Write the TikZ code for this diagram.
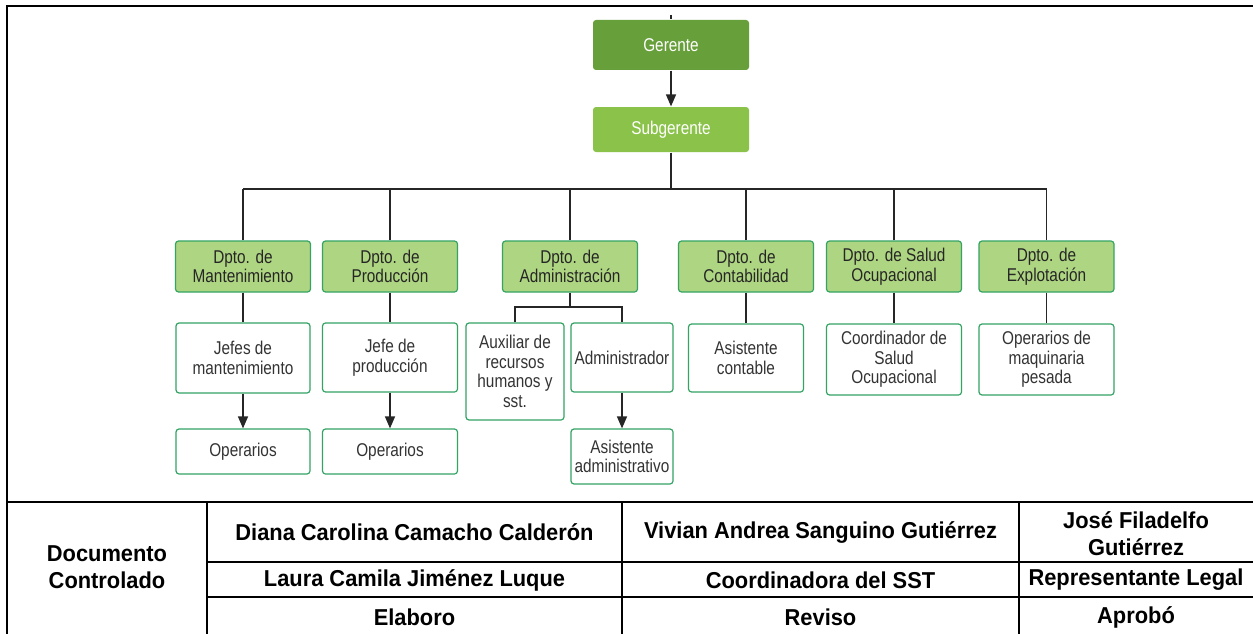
\documentclass[tikz,border=0pt]{standalone}
\usepackage{fontspec}
\setmainfont{Liberation Sans}
\newfontfamily\narrowfont[FakeStretch=0.83]{Liberation Sans}
\newfontfamily\tablafont[FakeStretch=0.95]{Liberation Sans}
\usetikzlibrary{arrows.meta}

\definecolor{verdeoscuro}{HTML}{679F3A}
\definecolor{verdemedio}{HTML}{8BC34A}
\definecolor{verdeclaro}{HTML}{AED581}
\definecolor{bordeverde}{HTML}{34A465}
\definecolor{textogris}{HTML}{333333}

\tikzset{
  caja/.style={draw=bordeverde, line width=1.2pt, rounded corners=3pt, fill=white, inner sep=1pt, align=center, text=textogris, font=\narrowfont\fontsize{18.5}{19.5}\selectfont},
  jefe/.style={caja, draw=none, text=white, minimum width=156pt},
  dpto/.style={caja, fill=verdeclaro, text=black!85, minimum width=135pt, minimum height=51pt},
  linea/.style={line width=1.4pt, draw=black!85},
  flecha/.style={linea, -{Triangle[length=12pt,width=10pt]}},
  tabla/.style={line width=1.5pt},
  celda/.style={align=center, font=\tablafont\bfseries\fontsize{23}{27}\selectfont},
}

\begin{document}
\begin{tikzpicture}[x=1pt, y=-1pt]
    \fill[white] (0,0) rectangle (1253,634);
    \useasboundingbox (0,0) rectangle (1253,634);
    % marco
    \draw[line width=2pt] (7,640) -- (7,6) -- (1258,6);
    % gerencia
    \node[jefe, fill=verdeoscuro, minimum height=50pt] (gerente) at (671,45) {Gerente};
    \node[jefe, fill=verdemedio, minimum height=45pt] (subgerente) at (671,129.5) {Subgerente};
    \coordinate (arriba) at (671,15);
    \coordinate (bus) at (671,189);
    \draw[linea] (arriba) -- (gerente);
    \draw[flecha] (gerente) -- (subgerente);
    \draw[linea] (subgerente) -- (bus);
    % departamentos
    \foreach \nombre/\x/\texto in {mant/243/{Dpto. de\\Mantenimiento}, prod/390/{Dpto. de\\Producción}, adm/570/{Dpto. de\\Administración}, cont/746/{Dpto. de\\Contabilidad}, salud/894/{Dpto. de Salud\\Ocupacional}, expl/1046.5/{Dpto. de\\Explotación}}{
        \node[dpto] (\nombre) at (\x,266.5) {\texto};
        \draw[linea] (\nombre.north) -- (\nombre.north |- bus);
    }
    \draw[linea] (mant.north |- bus) -- (expl.north |- bus);
    % cargos
    \node[caja, minimum width=134pt, minimum height=70pt] (jefesmant) at (243,358) {Jefes de\\mantenimiento};
    \node[caja, minimum width=135pt, minimum height=69pt] (jefeprod) at (390,357.5) {Jefe de\\producción};
    \node[caja, minimum width=98pt, minimum height=97pt] (auxiliar) at (515,371.5) {Auxiliar de\\recursos\\humanos y\\sst.};
    \node[caja, minimum width=102pt, minimum height=69pt] (administrador) at (622,357.5) {Administrador};
    \node[caja, minimum width=115pt, minimum height=68pt] (asiscont) at (746,358) {Asistente\\contable};
    \node[caja, minimum width=135pt, minimum height=71pt] (coordinador) at (894,359.5) {Coordinador de\\Salud\\Ocupacional};
    \node[caja, minimum width=135pt, minimum height=71pt] (operamaq) at (1046.5,359.5) {Operarios de\\maquinaria\\pesada};
    \node[caja, minimum width=134pt, minimum height=45pt] (oper1) at (243,451.5) {Operarios};
    \node[caja, minimum width=135pt, minimum height=45pt] (oper2) at (390,451.5) {Operarios};
    \node[caja, minimum width=102pt, minimum height=55pt] (asisadmin) at (622,456.5) {Asistente\\administrativo};
    % conexiones
    \draw[linea] (mant) -- (jefesmant);
    \draw[linea] (prod) -- (jefeprod);
    \draw[linea] (cont) -- (asiscont);
    \draw[linea] (salud) -- (coordinador);
    \draw[linea] (expl) -- (operamaq);
    \coordinate (ramaadm) at (570,307);
    \draw[linea] (adm) -- (ramaadm);
    \draw[linea] (auxiliar.north) |- (ramaadm) -| (administrador.north);
    \draw[flecha] (jefesmant) -- (oper1);
    \draw[flecha] (jefeprod) -- (oper2);
    \draw[flecha] (administrador) -- (asisadmin);
    % tabla de control
    \draw[tabla] (7,502) -- (1258,502);
    \draw[tabla] (207,562) -- (1258,562) (207,597) -- (1258,597);
    \draw[tabla] (207,502) -- (207,640) (622,502) -- (622,640) (1019,502) -- (1019,640);
    \node[celda] (documento) at (107,567) {Documento\\Controlado};
    \node[celda] (elabora) at (414.5,532) {Diana Carolina Camacho Calderón};
    \node[celda] (revisa) at (820.5,532) {Vivian Andrea Sanguino Gutiérrez};
    \node[celda] (aprueba) at (1136,534) {José Filadelfo\\Gutiérrez};
    \node[celda] (elaboracargo) at (414.5,580) {Laura Camila Jiménez Luque};
    \node[celda] (revisacargo) at (820.5,580) {Coordinadora del SST};
    \node[celda] (apruebacargo) at (1136,580) {Representante Legal};
    \node[celda] (elaboro) at (414.5,617) {Elaboro};
    \node[celda] (reviso) at (820.5,617) {Reviso};
    \node[celda] (aprobo) at (1136,617) {Aprobó};
\end{tikzpicture}
\end{document}
